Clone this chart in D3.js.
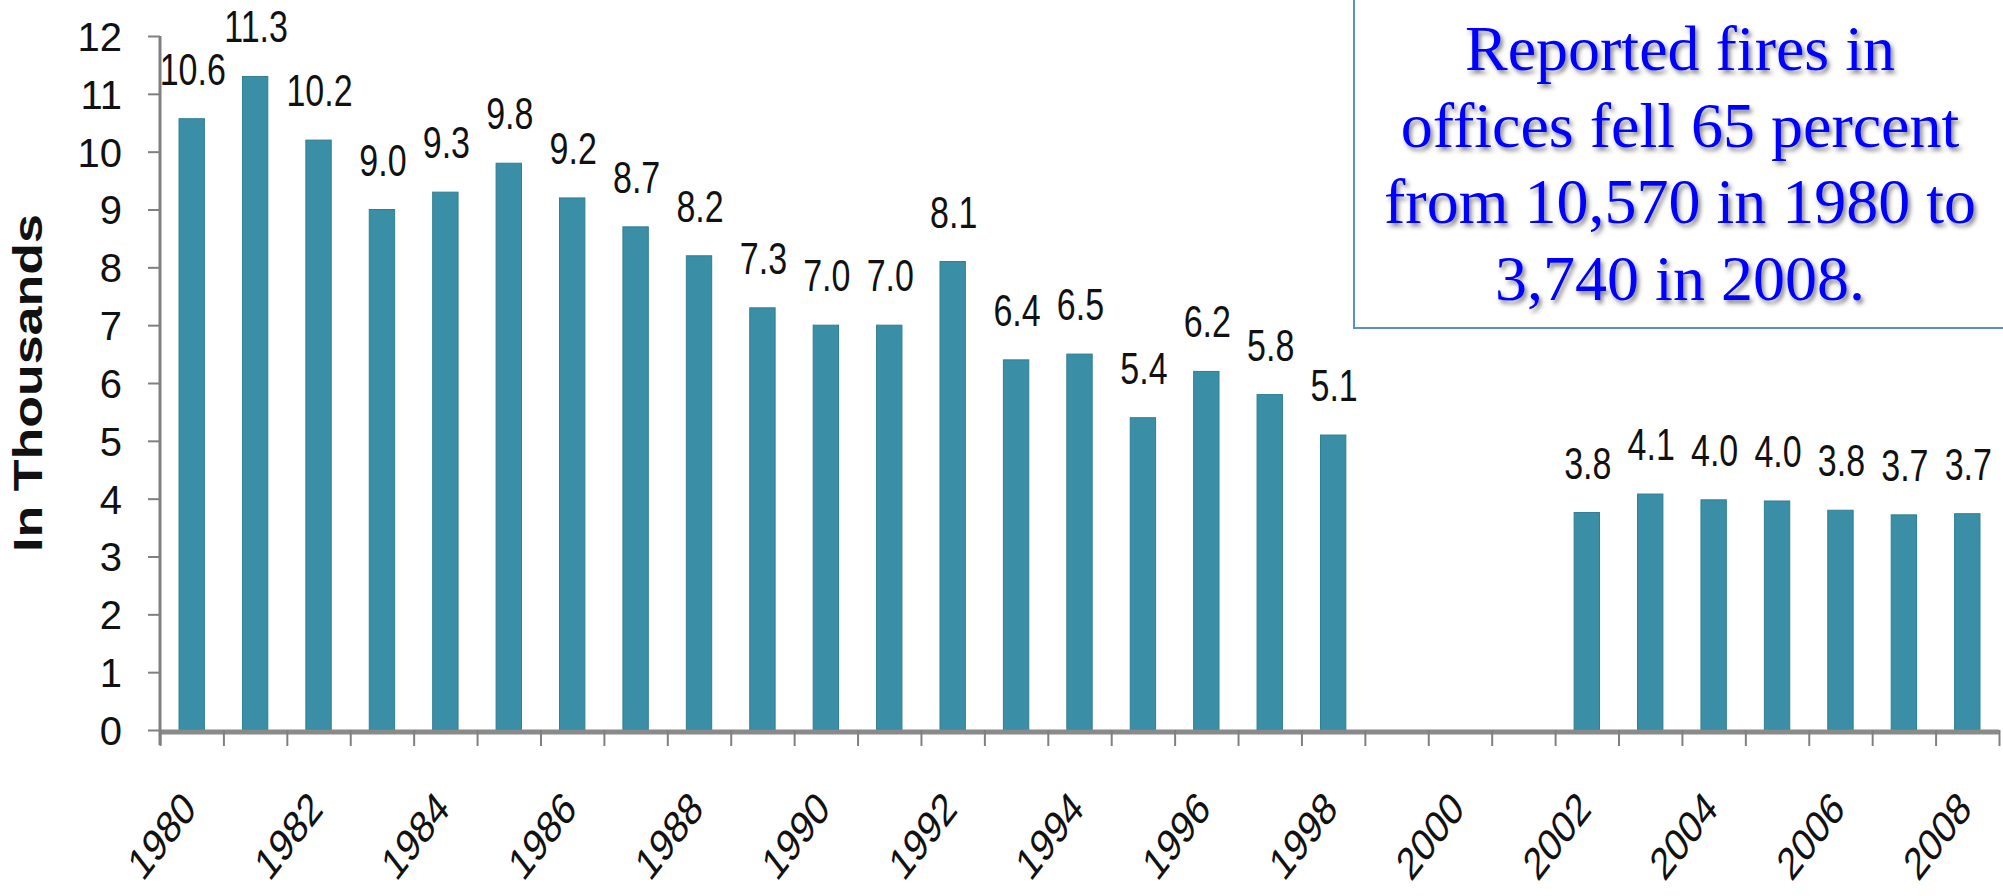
<!DOCTYPE html>
<html>
<head>
<meta charset="utf-8">
<script src="https://cdn.jsdelivr.net/npm/d3@7"></script>
<style>
  body { margin: 0; background: #fff; }
  svg { display: block; }
</style>
</head>
<body>
<svg id="chart"></svg>
<script>
// years on the x axis, 1999-2001 have no data
var years = d3.range(1980, 2009);
// reported office fires, in thousands
var fires = [10.57, 11.3, 10.2, 9.0, 9.3, 9.8, 9.2, 8.7, 8.2, 7.3, 7.0, 7.0, 8.1,
  6.4, 6.5, 5.4, 6.2, 5.8, 5.1, null, null, null, 3.76, 4.08, 3.98, 3.96, 3.8, 3.72, 3.74];
var yTicks = [0, 1, 2, 3, 4, 5, 6, 7, 8, 9, 10, 11, 12];
var xLabels = d3.range(1980, 2009, 2);
var note = ["Reported fires in", "offices fell 65 percent", "from 10,570 in 1980 to", "3,740 in 2008."];

var dataset = years.map(function (d, i) {
  return { year: d, value: fires[i] };
});

var width = 2003, height = 896;
var stretch = 1.3; // the picture is taller than it is wide

var svg = d3.select("#chart").attr("width", width).attr("height", height);

var defs = svg.append("defs");
var shadow = defs.append("filter").attr("id", "shadow")
  .attr("x", "-10%").attr("y", "-10%").attr("width", "120%").attr("height", "130%");
shadow.append("feDropShadow")
  .attr("dx", 2.5).attr("dy", 3.5).attr("stdDeviation", 2)
  .attr("flood-color", "#303030").attr("flood-opacity", 0.6);

// scales
var xScale = d3.scaleBand()
  .domain(years)
  .range([160, 1999])
  .paddingInner(0.6)
  .paddingOuter(0.3);
var xEdge = d3.scaleLinear().domain([1980, 2009]).range([160, 1999]);
var yScale = d3.scaleLinear().domain([0, 12]).range([730, 36]);

// bars
svg.selectAll(".bar")
  .data(dataset.filter(function (d) { return d.value != null; }))
  .enter()
  .append("rect")
  .attr("class", "bar")
  .attr("x", function (d) { return xScale(d.year); })
  .attr("y", function (d) { return yScale(d.value); })
  .attr("width", xScale.bandwidth())
  .attr("height", function (d) { return yScale(0) - yScale(d.value); })
  .attr("fill", "#3a8fa6")
  .attr("stroke", "#2f7e94")
  .attr("stroke-width", 1);

// value labels
svg.selectAll(".val")
  .data(dataset.filter(function (d) { return d.value != null; }))
  .enter()
  .append("text")
  .attr("class", "val")
  .attr("transform", function (d) {
    return "translate(" + (xScale(d.year) + xScale.bandwidth() / 2 + 1) + "," + (yScale(d.value) - 34) + ") scale(1," + stretch + ")";
  })
  .attr("text-anchor", "middle")
  .style("font-family", "Liberation Sans, Arial, sans-serif")
  .style("font-size", "34px")
  .attr("fill", "#111")
  .text(function (d) { return d3.format(".1f")(d.value); });

// x axis, ticks between the years
var xAxis = svg.append("g")
  .attr("transform", "translate(0," + yScale(0) + ")")
  .call(d3.axisBottom(xEdge).tickValues(d3.range(1980, 2010)).tickSize(16).tickFormat("").tickSizeOuter(0));
xAxis.select(".domain").attr("stroke", "#8a8a8a").attr("stroke-width", 5)
  .attr("d", "M160,2H1999");
xAxis.selectAll(".tick line").attr("stroke", "#808080").attr("stroke-width", 2);

// year labels
svg.selectAll(".year")
  .data(xLabels)
  .enter()
  .append("text")
  .attr("class", "year")
  .attr("transform", function (d) {
    return "translate(" + (xScale(d) + xScale.bandwidth() / 2 + 6) + ",811) scale(1," + stretch + ") rotate(-45)";
  })
  .attr("text-anchor", "end")
  .style("font-family", "Liberation Sans, Arial, sans-serif")
  .style("font-size", "35px")
  .attr("fill", "#111")
  .text(function (d) { return d; });

// y axis
var yAxis = svg.append("g")
  .attr("transform", "translate(160,0)")
  .call(d3.axisLeft(yScale).tickValues(yTicks).tickSize(12).tickPadding(26).tickSizeOuter(0));
yAxis.select(".domain").attr("stroke", "#808080").attr("stroke-width", 3)
  .attr("d", "M0," + yScale(12) + "V745");
yAxis.selectAll(".tick line").attr("stroke", "#808080").attr("stroke-width", 2);
yAxis.selectAll(".tick text")
  .style("font-family", "Liberation Sans, Arial, sans-serif")
  .style("font-size", "40px")
  .attr("fill", "#111")
  .attr("dy", "0.36em");

svg.append("text")
  .attr("transform", "translate(42," + (yScale(6)) + ") scale(1," + stretch + ") rotate(-90)")
  .attr("text-anchor", "middle")
  .style("font-family", "Liberation Sans, Arial, sans-serif")
  .style("font-size", "40px")
  .style("font-weight", "bold")
  .attr("fill", "#111")
  .text("In Thousands");

// note box
svg.append("rect")
  .attr("x", 1354)
  .attr("y", -3)
  .attr("width", 660)
  .attr("height", 331)
  .attr("fill", "#fff")
  .attr("stroke", "#5b8fc9")
  .attr("stroke-width", 2);

svg.selectAll(".note")
  .data(note)
  .enter()
  .append("text")
  .attr("class", "note")
  .attr("x", 1680)
  .attr("y", function (d, i) { return 70 + i * 76.7; })
  .attr("text-anchor", "middle")
  .attr("filter", "url(#shadow)")
  .style("font-family", "Liberation Serif, Times New Roman, serif")
  .style("font-size", "64px")
  .attr("fill", "#0000ff")
  .text(function (d) { return d; });
</script>
</body>
</html>
